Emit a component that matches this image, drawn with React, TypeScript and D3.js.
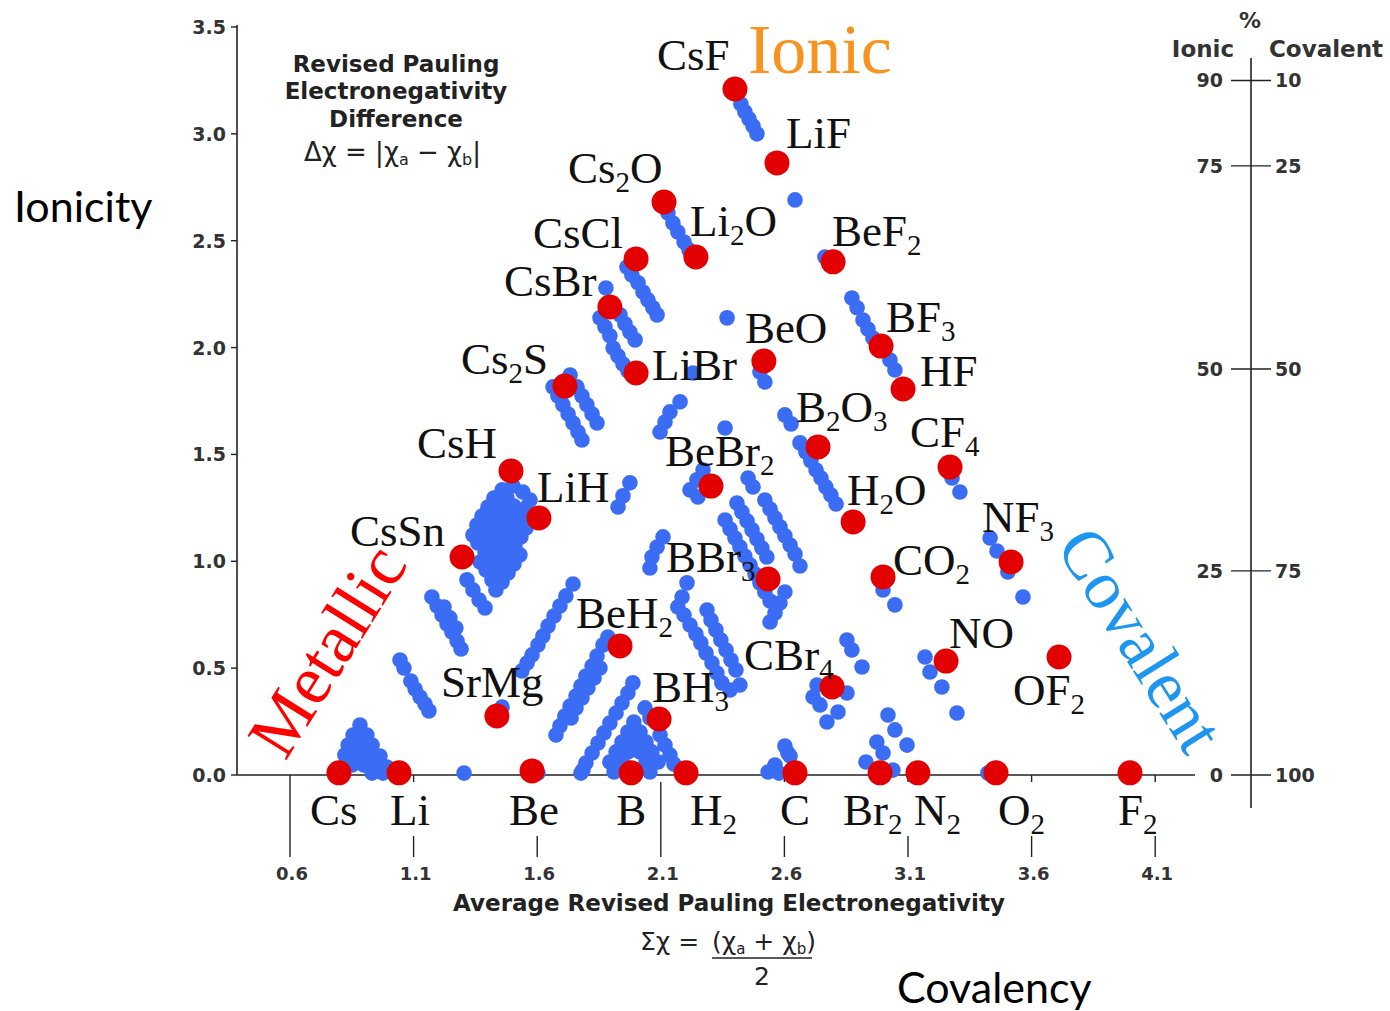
import React from "react";
import * as d3 from "d3";

// Named compounds: [formula, average electronegativity Σχ, difference Δχ]
const compounds: [string, number, number][] = [
  ["CsF", 2.4, 3.21],
  ["LiF", 2.57, 2.864],
  ["Cs2O", 2.113, 2.681],
  ["Li2O", 2.242, 2.424],
  ["BeF2", 2.797, 2.401],
  ["CsCl", 2.0, 2.415],
  ["CsBr", 1.894, 2.19],
  ["BeO", 2.517, 1.937],
  ["LiBr", 2.0, 1.881],
  ["BF3", 2.991, 2.007],
  ["HF", 3.08, 1.806],
  ["Cs2S", 1.712, 1.82],
  ["B2O3", 2.736, 1.535],
  ["CF4", 3.27, 1.441],
  ["CsH", 1.494, 1.423],
  ["BeBr2", 2.303, 1.352],
  ["H2O", 2.878, 1.184],
  ["LiH", 1.607, 1.203],
  ["NF3", 3.517, 0.997],
  ["CsSn", 1.296, 1.02],
  ["CO2", 2.999, 0.927],
  ["BBr3", 2.534, 0.917],
  ["BeH2", 1.935, 0.604],
  ["NO", 3.254, 0.533],
  ["OF2", 3.711, 0.552],
  ["CBr4", 2.793, 0.412],
  ["SrMg", 1.437, 0.276],
  ["BH3", 2.093, 0.262],
  ["Cs", 0.798, 0.01],
  ["Li", 1.041, 0.01],
  ["Be", 1.579, 0.019],
  ["B", 1.98, 0.01],
  ["H2", 2.202, 0.01],
  ["C", 2.643, 0.01],
  ["Br2", 2.987, 0.01],
  ["N2", 3.14, 0.01],
  ["O2", 3.456, 0.01],
  ["F2", 3.998, 0.01],
];

// Label placement relative to each named dot (px: start x, baseline)
const labelOffsets: [number, number][] = [
  [-78, -19], [9, -15], [-96, -19], [-6, -21], [-1, -16], [-103, -11], [-106, -11],
  [-19, -18], [16, 7], [5, -14], [17, -3], [-104, -12], [-22, -25], [-40, -20],
  [-94, -13], [-46, -20], [-6, -17], [-2, -16], [-29, -30], [-112, -11], [10, -2],
  [-102, -7], [-44, -18], [3, -13], [-46, 48], [-88, -17], [-56, -19], [-7, -17],
  [-29, 52], [-9, 52], [-23, 54], [-15, 52], [4, 52], [-15, 52], [-37, 52], [-4, 52],
  [2, 52], [-12, 52],
];

// Other binary compounds: [Σχ, Δχ]
const bluePoints: [number, number][] = [
  [2.424, 3.14], [2.44, 3.103], [2.457, 3.07], [2.473, 3.037], [2.489, 3.0],
  [2.643, 2.691],
  [2.129, 2.63], [2.149, 2.583], [2.169, 2.541], [2.194, 2.494], [2.214, 2.457],
  [2.764, 2.424],
  [1.963, 2.377], [1.983, 2.34],
  [2.008, 2.303], [2.028, 2.26], [2.048, 2.223], [2.068, 2.186], [2.085, 2.153],
  [1.878, 2.279],
  [1.854, 2.139], [1.874, 2.097], [1.894, 2.055],
  [1.935, 2.153], [1.955, 2.111], [1.975, 2.073], [1.996, 2.036],
  [1.907, 1.998], [1.927, 1.961], [1.947, 1.923], [1.967, 1.891],
  [2.368, 2.139], [2.23, 1.881], [2.178, 1.746], [2.501, 1.886], [2.521, 1.839],
  [2.873, 2.232], [2.894, 2.186], [2.918, 2.129], [2.938, 2.087], [2.958, 2.045], [3.027, 1.942], [3.047, 1.895],
  [2.602, 1.685], [2.627, 1.643], [2.663, 1.554], [2.687, 1.512], [2.707, 1.47], [2.728, 1.427],
  [2.748, 1.39], [2.768, 1.348], [2.788, 1.31], [2.809, 1.268],
  [3.278, 1.39], [3.31, 1.324],
  [3.432, 1.109], [3.46, 1.048], [3.504, 0.95], [3.565, 0.833],
  [2.999, 0.866], [3.047, 0.796],
  [3.169, 0.552], [3.189, 0.482], [3.237, 0.412], [3.298, 0.29],
  [2.853, 0.632], [2.873, 0.585], [2.914, 0.505], [2.732, 0.421], [2.716, 0.365], [2.744, 0.328],
  [2.772, 0.248], [2.853, 0.384], [2.817, 0.295],
  [3.019, 0.281], [3.047, 0.211], [3.096, 0.14], [2.974, 0.154], [2.999, 0.103], [2.93, 0.061], [3.039, 0.023],
  [2.614, 0.103], [2.602, 0.136], [2.623, 0.089], [2.562, 0.047], [2.534, 0.014], [2.578, 0.009], [3.423, 0.009],
  [0.883, 0.234], [0.855, 0.187], [0.911, 0.187], [0.835, 0.14], [0.883, 0.14], [0.932, 0.14],
  [0.822, 0.094], [0.871, 0.094], [0.92, 0.094], [0.964, 0.089], [0.851, 0.047], [0.899, 0.047],
  [0.948, 0.047], [0.992, 0.037], [0.932, 0.009], [0.976, 0.009],
  [1.304, 0.009],
  [1.045, 0.538], [1.061, 0.501], [1.089, 0.44], [1.106, 0.402], [1.126, 0.365], [1.146, 0.332], [1.162, 0.3],
  [1.174, 0.833], [1.195, 0.791], [1.215, 0.749], [1.235, 0.707], [1.255, 0.669], [1.276, 0.627],
  [1.292, 0.59], [1.223, 0.786], [1.247, 0.735], [1.271, 0.688],
  [1.316, 0.913], [1.34, 0.866], [1.365, 0.819], [1.389, 0.782], [1.421, 0.945], [1.449, 0.913],
  [1.502, 1.352], [1.458, 1.334], [1.542, 1.324], [1.425, 1.296], [1.478, 1.296], [1.571, 1.287],
  [1.401, 1.254], [1.449, 1.259], [1.506, 1.259], [1.555, 1.25], [1.377, 1.212], [1.429, 1.217],
  [1.482, 1.217], [1.53, 1.207], [1.575, 1.189], [1.356, 1.17], [1.405, 1.175], [1.458, 1.175],
  [1.506, 1.165], [1.555, 1.156], [1.34, 1.123], [1.389, 1.133], [1.437, 1.133], [1.486, 1.123],
  [1.534, 1.114], [1.36, 1.086], [1.413, 1.09], [1.462, 1.081], [1.51, 1.072], [1.389, 1.044],
  [1.437, 1.044], [1.486, 1.034], [1.53, 1.03], [1.369, 0.997], [1.413, 1.002], [1.462, 0.992],
  [1.506, 0.987], [1.393, 0.959], [1.437, 0.95], [1.482, 0.945], [1.417, 0.913], [1.458, 0.903],
  [1.433, 0.866],
  [1.664, 1.816], [1.684, 1.774], [1.704, 1.732], [1.725, 1.689], [1.745, 1.647], [1.765, 1.605], [1.781, 1.568],
  [1.733, 1.872], [1.761, 1.816], [1.781, 1.774], [1.801, 1.732], [1.822, 1.689], [1.842, 1.647],
  [2.137, 1.699], [2.117, 1.652], [2.097, 1.605],
  [1.975, 1.367], [1.947, 1.306], [1.927, 1.254],
  [2.36, 1.624], [2.271, 1.427], [2.246, 1.381], [2.218, 1.334], [2.25, 1.301],
  [2.453, 1.39], [2.473, 1.348],
  [2.408, 1.273], [2.428, 1.231], [2.449, 1.189], [2.469, 1.147], [2.489, 1.104], [2.509, 1.062], [2.529, 1.02],
  [2.36, 1.193], [2.38, 1.151], [2.4, 1.109], [2.42, 1.067], [2.44, 1.025], [2.461, 0.983],
  [2.481, 0.941], [2.501, 0.899], [2.521, 0.856], [2.542, 0.814],
  [2.521, 1.287], [2.542, 1.245], [2.562, 1.203], [2.582, 1.161], [2.602, 1.119], [2.623, 1.076],
  [2.643, 1.034], [2.663, 0.978],
  [2.602, 0.856], [2.582, 0.805], [2.562, 0.758], [2.542, 0.716],
  [2.109, 1.114], [2.085, 1.067], [2.064, 1.02], [2.056, 0.969],
  [2.206, 0.899], [2.186, 0.833], [2.169, 0.786], [2.194, 0.749], [2.218, 0.702], [2.242, 0.66],
  [2.287, 0.772], [2.303, 0.725], [2.323, 0.679], [2.343, 0.632], [2.364, 0.585], [2.384, 0.538],
  [2.404, 0.491], [2.262, 0.618], [2.283, 0.571], [2.307, 0.524], [2.327, 0.477], [2.347, 0.431],
  [2.38, 0.398], [2.42, 0.421],
  [1.745, 0.894], [1.716, 0.838], [1.692, 0.791], [1.668, 0.744], [1.644, 0.697], [1.623, 0.65],
  [1.603, 0.608], [1.579, 0.562], [1.559, 0.524], [1.538, 0.487],
  [1.458, 0.318],
  [1.886, 0.646], [1.866, 0.608], [1.842, 0.557], [1.822, 0.51], [1.797, 0.463], [1.777, 0.416],
  [1.757, 0.37], [1.733, 0.323], [1.712, 0.276], [1.692, 0.229], [1.676, 0.187],
  [1.854, 0.501], [1.83, 0.454], [1.805, 0.407], [1.781, 0.36], [1.757, 0.314], [1.737, 0.267],
  [1.987, 0.431], [1.967, 0.384], [1.943, 0.337], [1.919, 0.29], [1.894, 0.243], [1.87, 0.197],
  [1.846, 0.15], [1.822, 0.103], [1.797, 0.056], [1.777, 0.009],
  [1.991, 0.248], [1.967, 0.201], [2.016, 0.201], [1.943, 0.154], [1.991, 0.154], [2.04, 0.154],
  [1.919, 0.108], [1.967, 0.108], [2.016, 0.108], [2.064, 0.108], [1.894, 0.061], [1.943, 0.061],
  [2.04, 0.061], [2.089, 0.061], [1.911, 0.014], [2.056, 0.014],
  [2.036, 0.314], [2.056, 0.267], [2.097, 0.187], [2.117, 0.14], [2.137, 0.094], [2.153, 0.051],
  [1.603, 0.009], [1.785, 0.023],
];

const yTicks = [0, 0.5, 1, 1.5, 2, 2.5, 3, 3.5];
const xTicks = [0.6, 1.1, 1.6, 2.1, 2.6, 3.1, 3.6, 4.1];
const pctIonic = [90, 75, 50, 25, 0];
const pctDelta = [3.25, 2.85, 1.9, 0.955, 0];

const W = 1390;
const H = 1011;
const x = d3.scaleLinear().domain([0.6, 4.1]).range([290, 1155.2]);
const y = d3.scaleLinear().domain([0, 3.5]).range([775, 27]);

const SERIF = "'Liberation Serif', 'Times New Roman', serif";
const SANS_B = "'DejaVu Sans', sans-serif";
const RED = "#e30000";
const BLUE = "#3b6cf4";

function Chem({ text, px, py }: { text: string; px: number; py: number }) {
  const parts = text.match(/\d+|\D+/g) || [];
  return (
    <text x={px} y={py} fontFamily={SERIF} fontSize={45} fill="#111">
      {parts.map((p, i) => {
        const isSub = /\d/.test(p);
        const prevSub = i > 0 && /\d/.test(parts[i - 1]);
        return isSub ? (
          <tspan key={i} fontSize={29} dy={9}>{p}</tspan>
        ) : (
          <tspan key={i} dy={prevSub ? -9 : 0}>{p}</tspan>
        );
      })}
    </text>
  );
}

export default function App() {
  const fmt = d3.format(".1f");
  return (
    <svg
      width={W}
      height={H}
      viewBox={`0 0 ${W} ${H}`}
      style={{ position: "absolute", left: 0, top: 0, background: "#fff" }}
    >
      <rect width={W} height={H} fill="#fff" />

      {/* left axis */}
      <line x1={237} x2={237} y1={y(3.5) - 2} y2={y(0)} stroke="#222" strokeWidth={1.6} />
      {yTicks.map((t) => (
        <g key={t}>
          <line x1={231} x2={237} y1={y(t)} y2={y(t)} stroke="#222" strokeWidth={1.4} />
          <text x={226} y={y(t) + 7} textAnchor="end" fontFamily={SANS_B} fontWeight="bold" fontSize={19} fill="#333">
            {fmt(t)}
          </text>
        </g>
      ))}

      {/* bottom axis */}
      <line x1={237} x2={1195} y1={y(0)} y2={y(0)} stroke="#222" strokeWidth={1.6} />
      {xTicks.map((t, i) => {
        const long = i === 0 || i === 3;
        return (
          <g key={t}>
            {!long && <line x1={x(t)} x2={x(t)} y1={y(0)} y2={y(0) + 7} stroke="#222" strokeWidth={1.4} />}
            <line
              x1={x(t)}
              x2={x(t)}
              y1={i === 0 ? y(0) : i === 3 ? y(0) + 7 : 836}
              y2={857}
              stroke="#222"
              strokeWidth={1.4}
            />
            <text x={x(t) + 2} y={880} textAnchor="middle" fontFamily={SANS_B} fontWeight="bold" fontSize={18} fill="#333">
              {fmt(t)}
            </text>
          </g>
        );
      })}

      {/* right percentage axis */}
      <line x1={1251} x2={1251} y1={58} y2={808} stroke="#222" strokeWidth={1.6} />
      {pctIonic.map((p, i) => (
        <g key={p}>
          <line x1={1231} x2={1271} y1={y(pctDelta[i])} y2={y(pctDelta[i])} stroke="#222" strokeWidth={1.4} />
          <text x={1223} y={y(pctDelta[i]) + 7} textAnchor="end" fontFamily={SANS_B} fontWeight="bold" fontSize={19} fill="#333">
            {p}
          </text>
          <text x={1275} y={y(pctDelta[i]) + 7} textAnchor="start" fontFamily={SANS_B} fontWeight="bold" fontSize={19} fill="#333">
            {100 - p}
          </text>
        </g>
      ))}
      <text x={1250} y={28} textAnchor="middle" fontFamily={SANS_B} fontWeight="bold" fontSize={22} fill="#333">%</text>
      <text x={1203} y={57} textAnchor="middle" fontFamily={SANS_B} fontWeight="bold" fontSize={23} fill="#333">Ionic</text>
      <text x={1326} y={57} textAnchor="middle" fontFamily={SANS_B} fontWeight="bold" fontSize={23} fill="#333">Covalent</text>

      {/* titles */}
      <g fontFamily={SANS_B} fontWeight="bold" fontSize={23} fill="#222" textAnchor="middle">
        <text x={396} y={72}>Revised Pauling</text>
        <text x={396} y={99}>Electronegativity</text>
        <text x={396} y={127}>Difference</text>
        <text x={729} y={911}>Average Revised Pauling Electronegativity</text>
      </g>
      <text x={304} y={161} fontFamily={SANS_B} fontSize={26} fill="#222">
        Δχ =  |χ<tspan fontSize={16} dy={4}>a</tspan>
        <tspan dy={-4}> − χ</tspan>
        <tspan fontSize={16} dy={4}>b</tspan>
        <tspan dy={-4}>|</tspan>
      </text>
      <text x={640} y={950} fontFamily={SANS_B} fontSize={25} fill="#222">Σχ =</text>
      <text x={712} y={950} fontFamily={SANS_B} fontSize={25} fill="#222">
        (χ<tspan fontSize={15} dy={4}>a</tspan>
        <tspan dy={-4}> + χ</tspan>
        <tspan fontSize={15} dy={4}>b</tspan>
        <tspan dy={-4}>)</tspan>
      </text>
      <line x1={712} x2={812} y1={958} y2={958} stroke="#222" strokeWidth={1.6} />
      <text x={762} y={985} textAnchor="middle" fontFamily={SANS_B} fontSize={25} fill="#222">2</text>

      <text x={14} y={222} fontFamily="Lato, 'Open Sans', sans-serif" fontSize={43} fill="#000">Ionicity</text>
      <text x={897} y={1003} fontFamily="Lato, 'Open Sans', sans-serif" fontSize={43} fill="#000">Covalency</text>

      {/* corner labels */}
      <text x={748} y={73} fontFamily={SERIF} fontSize={70} fill="#f7931e">Ionic</text>
      <text transform="translate(347,663) rotate(-58)" textAnchor="middle" fontFamily={SERIF} fontSize={70} fill="#ff0000">
        Metallic
      </text>
      <text transform="translate(1121,652) rotate(58)" textAnchor="middle" fontFamily={SERIF} fontSize={69} fill="#1e96f0">
        Covalent
      </text>

      {/* compound dots */}
      {bluePoints.map(([a, b], i) => (
        <circle key={`b${i}`} cx={x(a)} cy={y(b)} r={7.8} fill={BLUE} />
      ))}
      {compounds.map(([name, a, b]) => (
        <circle key={name} cx={x(a)} cy={y(b)} r={12.5} fill={RED} />
      ))}
      {compounds.map(([name, a, b], i) => (
        <Chem key={`l${name}`} text={name} px={x(a) + labelOffsets[i][0]} py={y(b) + labelOffsets[i][1]} />
      ))}
    </svg>
  );
}
